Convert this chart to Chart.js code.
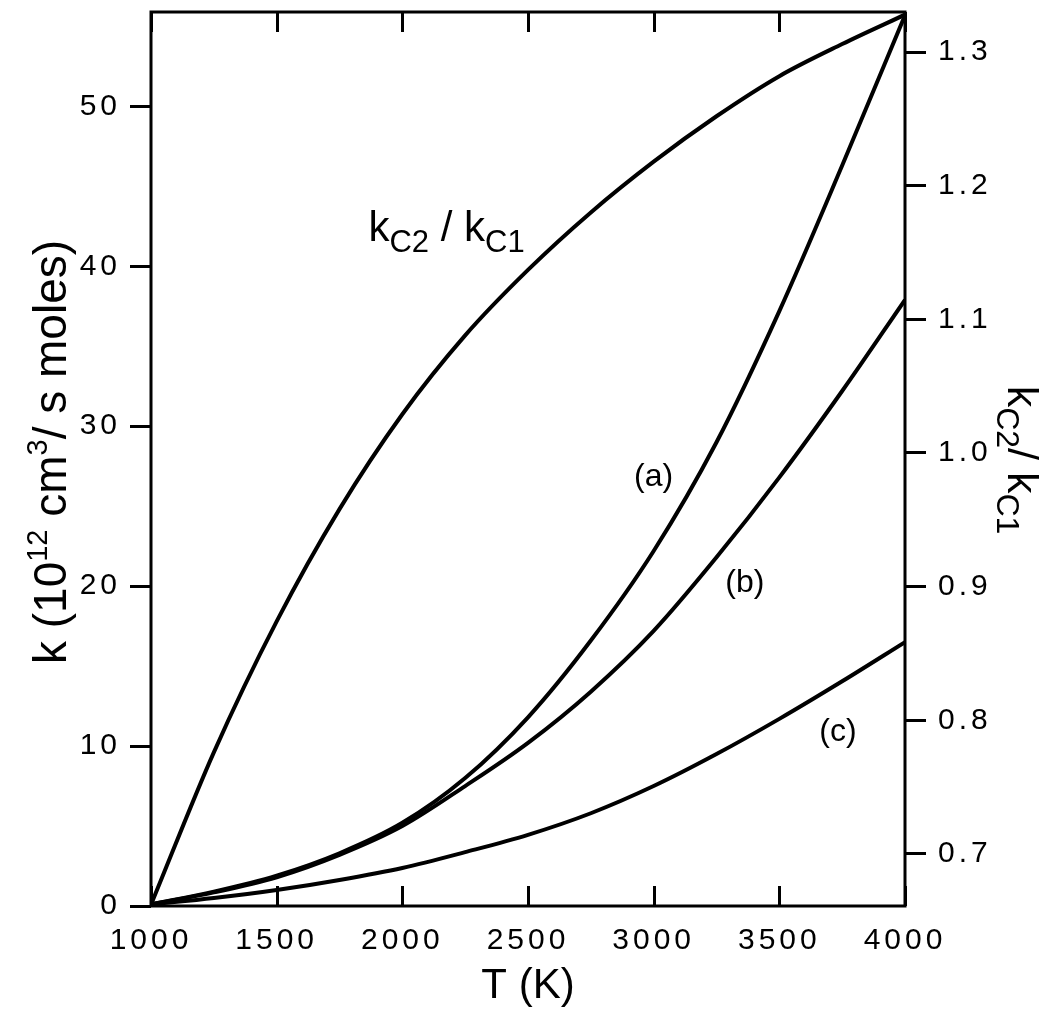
<!DOCTYPE html>
<html>
<head>
<meta charset="utf-8">
<title>k vs T</title>
<script src="https://cdn.jsdelivr.net/npm/chart.js@4.4.0/dist/chart.umd.min.js"></script>
<style>
  html, body { margin: 0; padding: 0; background: #fff; }
</style>
</head>
<body>
<canvas id="chart" width="1048" height="1022"></canvas>
<script>
const temps = [1000, 1250, 1500, 1750, 2000, 2250, 2500, 2750, 3000, 3250, 3500, 3750, 4000];

// k in 10^12 cm^3 / s moles (left axis)
const kA = [0.1, 0.9, 1.9, 3.3, 5.2, 8.0, 11.8, 16.6, 22.2, 29.0, 37.2, 46.3, 55.7];
const kB = [0.1, 0.85, 1.8, 3.2, 5.0, 7.5, 10.2, 13.4, 17.2, 21.8, 26.8, 32.2, 37.9];
const kC = [0.1, 0.5, 1.0, 1.63, 2.38, 3.37, 4.45, 5.8, 7.5, 9.5, 11.7, 14.05, 16.5];

// ratio kC2/kC1 (right axis)
const ratio = [0.662, 0.776, 0.874, 0.958, 1.029, 1.088, 1.137, 1.180, 1.218, 1.252, 1.282, 1.306, 1.328];

// tick values
const xTicks = [1000, 1500, 2000, 2500, 3000, 3500, 4000];
const kTicks = [0, 10, 20, 30, 40, 50];
const ratioTicks = [0.7, 0.8, 0.9, 1.0, 1.1, 1.2, 1.3];

const FONT = '"Liberation Sans", Arial, Helvetica, sans-serif';

function pts(ys) {
    return temps.map((t, i) => ({ x: t, y: ys[i] }));
}

// text made of pieces with their own size and baseline shift (sub/superscripts)
function richWidth(ctx, parts) {
    let w = 0;
    parts.forEach(p => {
        ctx.font = p.size + 'px ' + FONT;
        w += ctx.measureText(p.t).width;
    });
    return w;
}

function drawRich(ctx, parts, x, y) {
    parts.forEach(p => {
        ctx.font = p.size + 'px ' + FONT;
        ctx.fillText(p.t, x, y + (p.dy || 0));
        x += ctx.measureText(p.t).width;
    });
}

const ratioText = [
    { t: 'k', size: 42 }, { t: 'C2', size: 31, dy: 11 },
    { t: ' / ', size: 42 },
    { t: 'k', size: 42 }, { t: 'C1', size: 31, dy: 11 }
];
const rightTitle = [
    { t: 'k', size: 43 }, { t: 'C2', size: 32, dy: 11 },
    { t: '/ ', size: 43 },
    { t: 'k', size: 43 }, { t: 'C1', size: 32, dy: 11 }
];
const leftTitle = [
    { t: 'k (10', size: 46 }, { t: '12', size: 29, dy: -19 },
    { t: ' cm', size: 46 }, { t: '3', size: 29, dy: -19 },
    { t: '/ s moles)', size: 46 }
];

// curve labels, placed in data coordinates (T, k)
const curveLabels = [
    { text: '(a)', T: 3000, k: 26.8 },
    { text: '(b)', T: 3363, k: 20.2 },
    { text: '(c)', T: 3733, k: 10.9 }
];

const framePlugin = {
    id: 'frame',
    beforeDraw(chart) {
        // the old plot has widely spaced tick digits
        chart.ctx.letterSpacing = '4px';
    },
    afterDraw(chart) {
        const { ctx, chartArea: a, scales } = chart;
        ctx.save();
        ctx.letterSpacing = '0px';
        ctx.strokeStyle = '#000';
        ctx.fillStyle = '#000';
        ctx.lineWidth = 3;
        ctx.strokeRect(a.left, a.top, a.right - a.left, a.bottom - a.top);

        // x ticks point inward, on the bottom and the top edge
        ctx.beginPath();
        xTicks.forEach(v => {
            const px = Math.round(scales.x.getPixelForValue(v)) + 0.5;
            ctx.moveTo(px, a.bottom); ctx.lineTo(px, a.bottom - 20);
            ctx.moveTo(px, a.top); ctx.lineTo(px, a.top + 20);
        });
        ctx.stroke();

        ctx.textBaseline = 'alphabetic';

        // x title
        ctx.font = '42px ' + FONT;
        ctx.textAlign = 'center';
        ctx.fillText('T (K)', (a.left + a.right) / 2, 998);
        ctx.textAlign = 'left';

        // left title, reads bottom to top
        ctx.save();
        ctx.translate(66, 452);
        ctx.rotate(-Math.PI / 2);
        drawRich(ctx, leftTitle, -richWidth(ctx, leftTitle) / 2, 0);
        ctx.restore();

        // right title, reads top to bottom
        ctx.save();
        ctx.translate(1008, 460);
        ctx.rotate(Math.PI / 2);
        drawRich(ctx, rightTitle, -richWidth(ctx, rightTitle) / 2, 0);
        ctx.restore();

        // label of the ratio curve
        drawRich(ctx, ratioText, scales.x.getPixelForValue(1865), scales.y.getPixelForValue(41.6));

        // (a), (b), (c)
        ctx.font = '32px ' + FONT;
        ctx.textAlign = 'center';
        ctx.textBaseline = 'middle';
        curveLabels.forEach(l => {
            ctx.fillText(l.text, scales.x.getPixelForValue(l.T), scales.y.getPixelForValue(l.k));
        });
        ctx.restore();
    }
};

function lineSet(data, axis) {
    return {
        data: data,
        yAxisID: axis,
        borderColor: '#000',
        borderWidth: 4,
        pointRadius: 0,
        fill: false,
        cubicInterpolationMode: 'monotone'
    };
}

const tickFont = { family: FONT, size: 30 };

// keep the plot box at a fixed place on the canvas
function fixY(width) {
    return s => { s.width = width; s.paddingTop = 0; s.paddingBottom = 0; };
}

new Chart(document.getElementById('chart'), {
    type: 'line',
    data: {
        datasets: [
            lineSet(pts(ratio), 'y2'),
            lineSet(pts(kA), 'y'),
            lineSet(pts(kB), 'y'),
            lineSet(pts(kC), 'y')
        ]
    },
    options: {
        responsive: false,
        animation: false,
        layout: { padding: { top: 12, left: 0, right: 0, bottom: 0 } },
        plugins: {
            legend: { display: false },
            tooltip: { enabled: false }
        },
        scales: {
            x: {
                type: 'linear',
                min: 1000,
                max: 4000,
                afterBuildTicks: s => { s.ticks = xTicks.map(v => ({ value: v })); },
                afterFit: s => { s.height = 116; s.paddingLeft = 0; s.paddingRight = 0; },
                grid: { display: false, drawTicks: false },
                border: { display: false },
                ticks: { color: '#000', font: tickFont, padding: 17, maxRotation: 0, callback: v => String(v) }
            },
            y: {
                position: 'left',
                min: 0,
                max: 55.9,
                afterBuildTicks: s => { s.ticks = kTicks.map(v => ({ value: v })); },
                afterFit: fixY(151),
                grid: { drawOnChartArea: false, drawTicks: true, tickLength: 21, color: '#000', lineWidth: 3 },
                border: { display: false },
                ticks: { color: '#000', font: tickFont, padding: 9, callback: v => String(v) }
            },
            y2: {
                position: 'right',
                min: 0.661,
                max: 1.330,
                afterBuildTicks: s => { s.ticks = ratioTicks.map(v => ({ value: v })); },
                afterFit: fixY(143),
                grid: { drawOnChartArea: false, drawTicks: true, tickLength: 21, color: '#000', lineWidth: 3 },
                border: { display: false },
                ticks: { color: '#000', font: tickFont, padding: 12, callback: v => v.toFixed(1) }
            }
        }
    },
    plugins: [framePlugin]
});
</script>
</body>
</html>
